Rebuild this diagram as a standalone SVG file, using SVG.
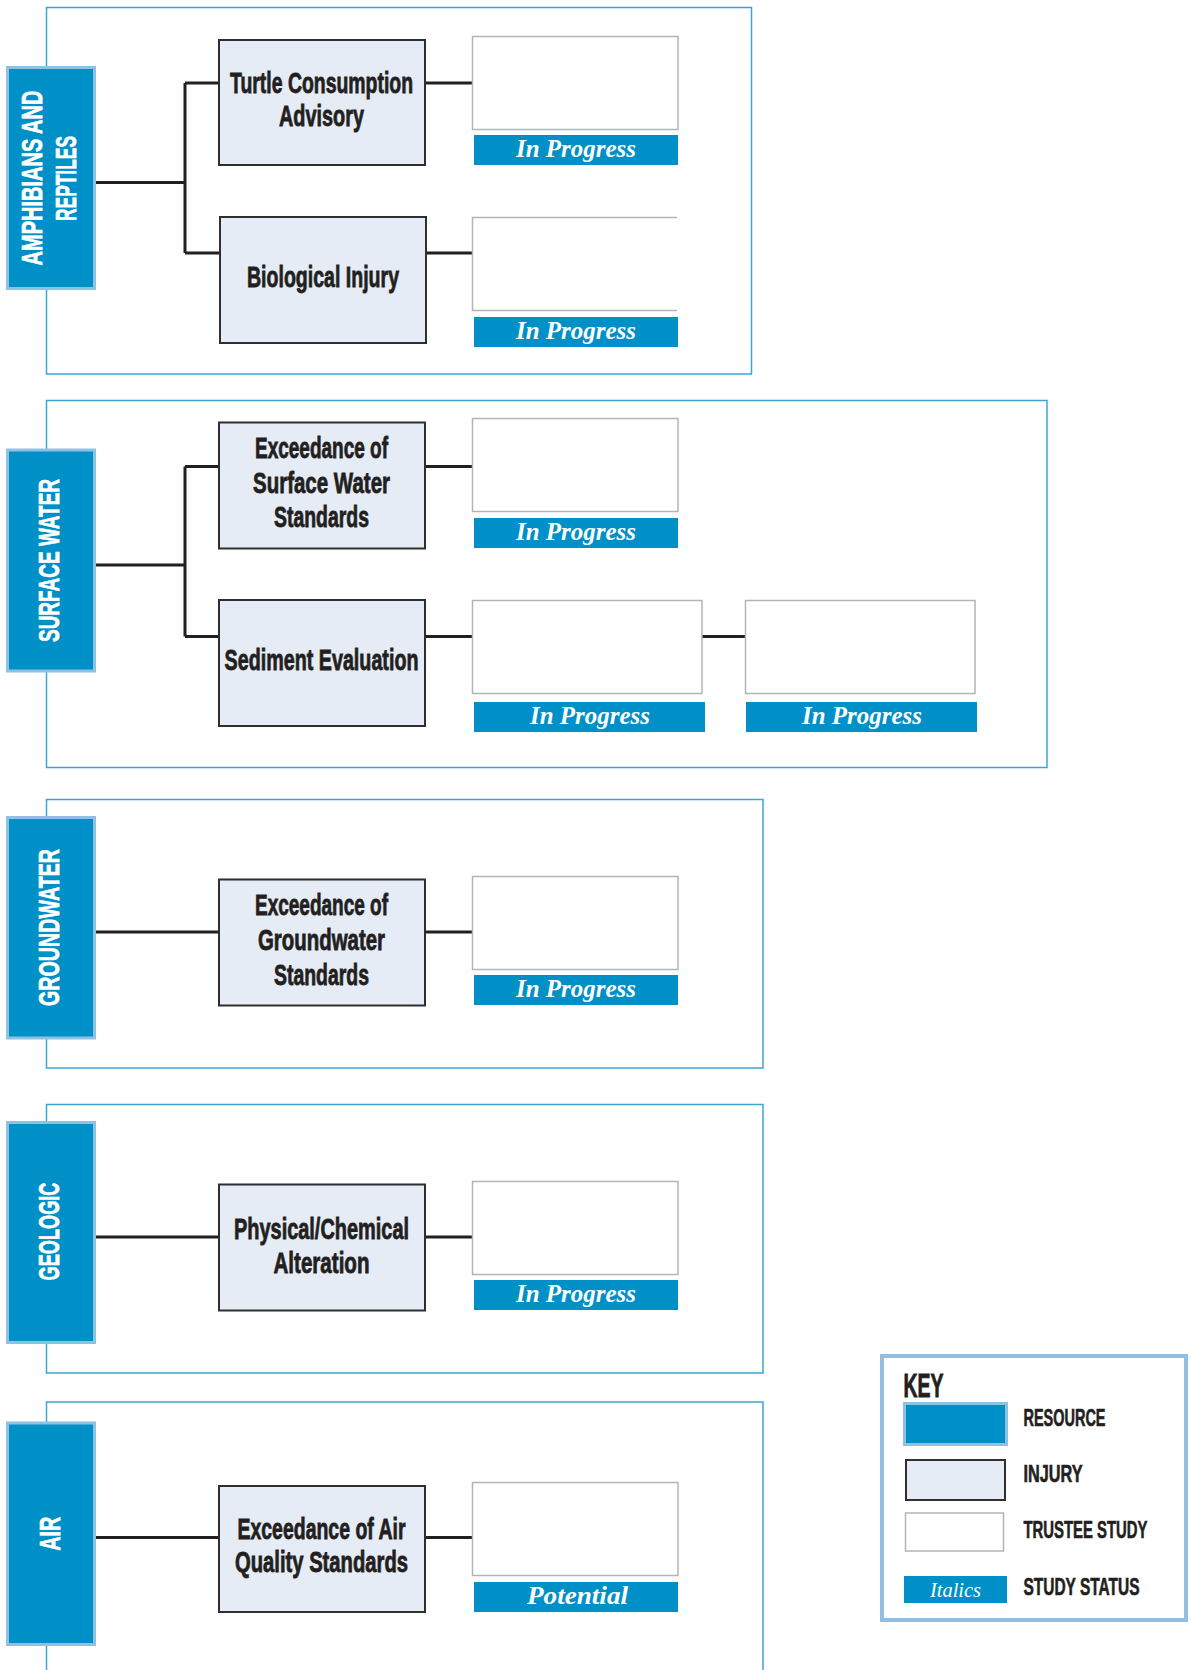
<svg xmlns="http://www.w3.org/2000/svg" width="1191" height="1670" viewBox="0 0 1191 1670">
  <style>
    .frame { fill: none; stroke: #3aa6d8; stroke-width: 1.5; }
    .res { fill: #0090c8; stroke: #8fc1e3; stroke-width: 3; }
    .inj { fill: #e5ecf6; stroke: #2f2f2f; stroke-width: 2; }
    .study { fill: #ffffff; stroke: #b4b4b4; stroke-width: 1.5; }
    .status { fill: #0090c8; }
    .wire { fill: none; stroke: #231f20; stroke-width: 3; }
    .rlabel { font-family: "Liberation Sans", Arial, sans-serif; font-weight: bold; font-size: 30px; fill: #ffffff; stroke: #ffffff; stroke-width: 0.7; text-anchor: middle; }
    .ilabel { font-family: "Liberation Sans", Arial, sans-serif; font-weight: bold; font-size: 29px; fill: #231f20; stroke: #231f20; stroke-width: 0.8; text-anchor: middle; }
    .slabel { font-family: "Liberation Serif", "Times New Roman", serif; font-weight: bold; font-style: italic; font-size: 26px; fill: #ffffff; text-anchor: middle; }
    .klabel { font-family: "Liberation Sans", Arial, sans-serif; font-weight: bold; font-size: 23px; fill: #231f20; stroke: #231f20; stroke-width: 0.6; }
    .ktitle { font-family: "Liberation Sans", Arial, sans-serif; font-weight: bold; font-size: 33px; fill: #231f20; stroke: #231f20; stroke-width: 0.9; }
  </style>

  <!-- section frames -->
  <g id="frames">
    <rect class="frame" x="46.5" y="7.5" width="705" height="366.5"/>
    <rect class="frame" x="46.5" y="400.5" width="1000.5" height="367"/>
    <rect class="frame" x="46.5" y="799.5" width="716.5" height="268.5"/>
    <rect class="frame" x="46.5" y="1104.5" width="716.5" height="268.5"/>
    <rect class="frame" x="46.5" y="1402" width="716.5" height="320"/>
  </g>

  <!-- connectors -->
  <g id="connectors">
    <path class="wire" d="M96,182.5 H185 M185,83 V253 M185,83 H218 M185,253 H219 M425,83 H472 M426,253 H472"/>
    <path class="wire" d="M96,565 H185 M185,466.5 V636.5 M185,466.5 H218 M185,636.5 H218 M425,466.5 H472 M425,636.5 H472 M702,636.5 H745"/>
    <path class="wire" d="M96,932 H218 M425,932 H472"/>
    <path class="wire" d="M96,1237 H218 M425,1237 H472"/>
    <path class="wire" d="M96,1537.5 H218 M425,1537.5 H472"/>
  </g>

  <!-- resources -->
  <g id="res-amphibians">
    <rect class="res" x="7.5" y="67.5" width="87" height="221"/>
    <text class="rlabel" transform="translate(41.7,178) rotate(-90)" textLength="175" lengthAdjust="spacingAndGlyphs">AMPHIBIANS AND</text>
    <text class="rlabel" transform="translate(76,178.5) rotate(-90)" textLength="85" lengthAdjust="spacingAndGlyphs">REPTILES</text>
  </g>
  <g id="res-surface-water">
    <rect class="res" x="7.5" y="450" width="87" height="221"/>
    <text class="rlabel" transform="translate(59.3,560.5) rotate(-90)" textLength="163" lengthAdjust="spacingAndGlyphs">SURFACE WATER</text>
  </g>
  <g id="res-groundwater">
    <rect class="res" x="7.5" y="817.5" width="87" height="220.5"/>
    <text class="rlabel" transform="translate(59.3,927.5) rotate(-90)" textLength="157" lengthAdjust="spacingAndGlyphs">GROUNDWATER</text>
  </g>
  <g id="res-geologic">
    <rect class="res" x="7.5" y="1122.5" width="87" height="220"/>
    <text class="rlabel" transform="translate(59.3,1231.5) rotate(-90)" textLength="98" lengthAdjust="spacingAndGlyphs">GEOLOGIC</text>
  </g>
  <g id="res-air">
    <rect class="res" x="7.5" y="1423" width="87" height="221.5"/>
    <text class="rlabel" transform="translate(59.8,1533.7) rotate(-90)" textLength="34" lengthAdjust="spacingAndGlyphs">AIR</text>
  </g>

  <!-- injuries -->
  <g id="inj-turtle">
    <rect class="inj" x="219" y="40" width="206" height="125"/>
    <text class="ilabel" x="321.5" y="93" textLength="183" lengthAdjust="spacingAndGlyphs">Turtle Consumption</text>
    <text class="ilabel" x="321.5" y="126" textLength="85" lengthAdjust="spacingAndGlyphs">Advisory</text>
  </g>
  <g id="inj-biological">
    <rect class="inj" x="220" y="217" width="206" height="126"/>
    <text class="ilabel" x="323" y="287" textLength="152" lengthAdjust="spacingAndGlyphs">Biological Injury</text>
  </g>
  <g id="inj-surface-water">
    <rect class="inj" x="219" y="422.5" width="206" height="126"/>
    <text class="ilabel" x="321.5" y="458" textLength="133" lengthAdjust="spacingAndGlyphs">Exceedance of</text>
    <text class="ilabel" x="321.5" y="493" textLength="137" lengthAdjust="spacingAndGlyphs">Surface Water</text>
    <text class="ilabel" x="321.5" y="527" textLength="95" lengthAdjust="spacingAndGlyphs">Standards</text>
  </g>
  <g id="inj-sediment">
    <rect class="inj" x="219" y="600" width="206" height="126"/>
    <text class="ilabel" x="321.5" y="670" textLength="194" lengthAdjust="spacingAndGlyphs">Sediment Evaluation</text>
  </g>
  <g id="inj-groundwater">
    <rect class="inj" x="219" y="879.5" width="206" height="126"/>
    <text class="ilabel" x="321.5" y="915" textLength="133" lengthAdjust="spacingAndGlyphs">Exceedance of</text>
    <text class="ilabel" x="321.5" y="950" textLength="127" lengthAdjust="spacingAndGlyphs">Groundwater</text>
    <text class="ilabel" x="321.5" y="985" textLength="95" lengthAdjust="spacingAndGlyphs">Standards</text>
  </g>
  <g id="inj-physical">
    <rect class="inj" x="219" y="1184.5" width="206" height="126"/>
    <text class="ilabel" x="321.5" y="1239" textLength="175" lengthAdjust="spacingAndGlyphs">Physical/Chemical</text>
    <text class="ilabel" x="321.5" y="1273" textLength="96" lengthAdjust="spacingAndGlyphs">Alteration</text>
  </g>
  <g id="inj-air">
    <rect class="inj" x="219" y="1486" width="206" height="126"/>
    <text class="ilabel" x="321.5" y="1539" textLength="168" lengthAdjust="spacingAndGlyphs">Exceedance of Air</text>
    <text class="ilabel" x="321.5" y="1572" textLength="173" lengthAdjust="spacingAndGlyphs">Quality Standards</text>
  </g>

  <!-- trustee studies with status -->
  <g id="study-turtle">
    <rect class="study" x="472.5" y="36.5" width="205.5" height="93"/>
    <rect class="status" x="474" y="135" width="204" height="30"/>
    <text class="slabel" x="576" y="157" textLength="120" lengthAdjust="spacingAndGlyphs">In Progress</text>
  </g>
  <g id="study-biological">
    <path class="study" d="M677,217.5 H472.5 V310.5 H677"/>
    <rect class="status" x="474" y="317" width="204" height="30"/>
    <text class="slabel" x="576" y="339" textLength="120" lengthAdjust="spacingAndGlyphs">In Progress</text>
  </g>
  <g id="study-surface-water">
    <rect class="study" x="472.5" y="418.5" width="205.5" height="93"/>
    <rect class="status" x="474" y="518" width="204" height="30"/>
    <text class="slabel" x="576" y="540" textLength="120" lengthAdjust="spacingAndGlyphs">In Progress</text>
  </g>
  <g id="study-sediment-a">
    <rect class="study" x="472.5" y="600.5" width="229.5" height="93"/>
    <rect class="status" x="474" y="702" width="231" height="30"/>
    <text class="slabel" x="590" y="724" textLength="120" lengthAdjust="spacingAndGlyphs">In Progress</text>
  </g>
  <g id="study-sediment-b">
    <rect class="study" x="745.5" y="600.5" width="229.5" height="93"/>
    <rect class="status" x="746" y="702" width="231" height="30"/>
    <text class="slabel" x="862" y="724" textLength="120" lengthAdjust="spacingAndGlyphs">In Progress</text>
  </g>
  <g id="study-groundwater">
    <rect class="study" x="472.5" y="876.5" width="205.5" height="93"/>
    <rect class="status" x="474" y="975" width="204" height="30"/>
    <text class="slabel" x="576" y="997" textLength="120" lengthAdjust="spacingAndGlyphs">In Progress</text>
  </g>
  <g id="study-physical">
    <rect class="study" x="472.5" y="1181.5" width="205.5" height="93"/>
    <rect class="status" x="474" y="1280" width="204" height="30"/>
    <text class="slabel" x="576" y="1302" textLength="120" lengthAdjust="spacingAndGlyphs">In Progress</text>
  </g>
  <g id="study-air">
    <rect class="study" x="472.5" y="1482.5" width="205.5" height="93"/>
    <rect class="status" x="474" y="1582" width="204" height="30"/>
    <text class="slabel" x="577.5" y="1604" textLength="101" lengthAdjust="spacingAndGlyphs">Potential</text>
  </g>

  <!-- legend -->
  <g id="key">
    <rect x="882" y="1356" width="304" height="264" fill="#ffffff" stroke="#93bfe2" stroke-width="4"/>
    <text class="ktitle" x="903.5" y="1396.5" textLength="40" lengthAdjust="spacingAndGlyphs">KEY</text>
    <rect class="res" x="904.5" y="1403.5" width="102" height="41" stroke-width="1.5"/>
    <rect class="inj" x="906" y="1460" width="99" height="40" stroke-width="1.5"/>
    <rect class="study" x="905.5" y="1513" width="98" height="38"/>
    <rect class="status" x="904" y="1576" width="103" height="27"/>
    <text x="955.5" y="1597" font-family="Liberation Serif, Times New Roman, serif" font-style="italic" font-size="21" fill="#ffffff" text-anchor="middle" textLength="51" lengthAdjust="spacingAndGlyphs">Italics</text>
    <text class="klabel" x="1023.5" y="1426" textLength="82" lengthAdjust="spacingAndGlyphs">RESOURCE</text>
    <text class="klabel" x="1023.5" y="1482" textLength="59" lengthAdjust="spacingAndGlyphs">INJURY</text>
    <text class="klabel" x="1023.5" y="1538" textLength="124" lengthAdjust="spacingAndGlyphs">TRUSTEE STUDY</text>
    <text class="klabel" x="1023.5" y="1595" textLength="116" lengthAdjust="spacingAndGlyphs">STUDY STATUS</text>
  </g>
</svg>
